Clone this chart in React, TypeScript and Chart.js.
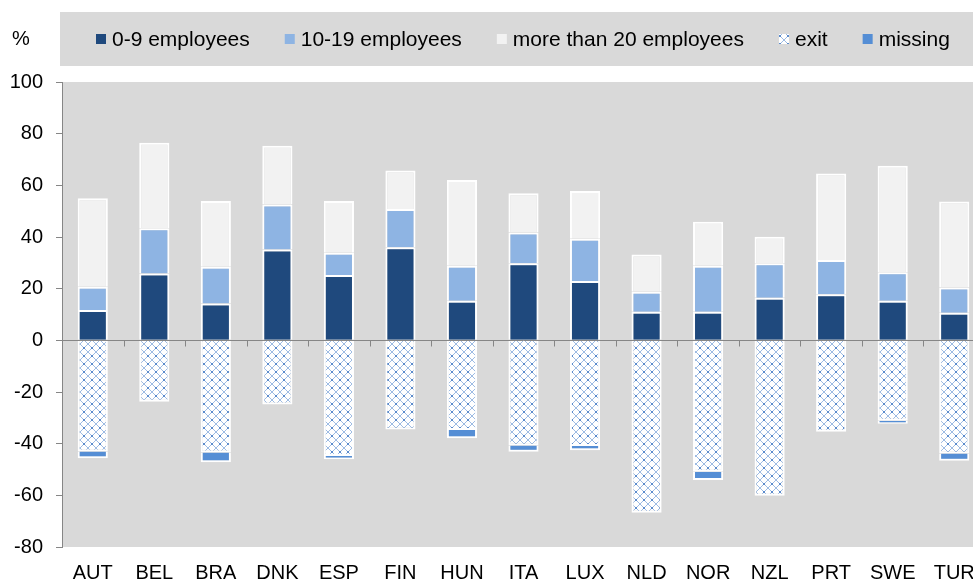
import React, { useEffect, useRef } from "react";
import { Chart, registerables } from "chart.js";

Chart.register(...registerables);

const categories = ["AUT", "BEL", "BRA", "DNK", "ESP", "FIN", "HUN", "ITA", "LUX", "NLD", "NOR", "NZL", "PRT", "SWE", "TUR"];
const seriesLabels = ["0-9 employees", "10-19 employees", "more than 20 employees", "exit", "missing"];
const emp0to9 = [11.7, 25.9, 14.3, 35.2, 25.3, 36.0, 15.3, 29.8, 23.0, 11.1, 11.1, 16.5, 17.8, 15.3, 10.7];
const emp10to19 = [9.0, 17.5, 14.2, 17.4, 8.6, 14.8, 13.6, 11.9, 16.3, 7.7, 17.8, 13.3, 13.3, 11.1, 9.8];
const empOver20 = [34.3, 33.1, 25.4, 22.7, 20.0, 14.9, 33.2, 15.2, 18.5, 14.4, 17.0, 10.3, 33.5, 41.2, 33.2];
const exitShare = [-43.0, -23.8, -43.4, -24.8, -44.8, -34.5, -34.7, -40.7, -40.9, -66.7, -50.9, -60.2, -35.4, -31.1, -43.8];
const missingShare = [-2.6, null, -3.8, null, -1.2, null, -3.2, -2.4, -1.6, null, -3.2, null, null, -1.2, -2.8];
const yMin = -80;
const yMax = 100;
const yStep = 20;
const unitLabel = "%";

const FONT = "'Liberation Sans', Arial, sans-serif";
const AXIS_GRAY = "#868686";
const PLOT_BG = "#d9d9d9";

export default function App() {
  const ref = useRef<HTMLCanvasElement>(null);

  useEffect(() => {
    const canvas = ref.current;
    if (!canvas) return;

    const pc = document.createElement("canvas");
    pc.width = 8;
    pc.height = 8;
    const pctx = pc.getContext("2d")!;
    pctx.fillStyle = "#ffffff";
    pctx.fillRect(0, 0, 8, 8);
    pctx.strokeStyle = "#9dbbe3";
    pctx.lineWidth = 1;
    pctx.beginPath();
    pctx.moveTo(0, 0);
    pctx.lineTo(8, 8);
    pctx.moveTo(8, 0);
    pctx.lineTo(0, 8);
    pctx.stroke();
    pctx.fillStyle = "#5b8bcc";
    pctx.fillRect(3, 3, 2, 2);
    const hatch = canvas.getContext("2d")!.createPattern(pc, "repeat")!;

    const colors = ["#1f497d", "#8eb4e3", "#f2f2f2", hatch, "#558ed5"];
    const values = [emp0to9, emp10to19, empOver20, exitShare, missingShare];

    const bgPlugin = {
      id: "bgPlugin",
      beforeDraw(chart: any) {
        const { ctx, chartArea, width } = chart;
        ctx.save();
        ctx.fillStyle = "#ffffff";
        ctx.fillRect(0, 0, width, chart.height);
        ctx.fillStyle = PLOT_BG;
        ctx.fillRect(chartArea.left, chartArea.top, chartArea.right - chartArea.left, chartArea.bottom - chartArea.top);
        // legend box
        ctx.fillStyle = PLOT_BG;
        ctx.fillRect(60, 12, width - 60, 54);
        ctx.fillStyle = "#000000";
        ctx.font = `20px ${FONT}`;
        ctx.textBaseline = "middle";
        ctx.textAlign = "left";
        ctx.fillText(unitLabel, 12, 39);
        ctx.font = `21px ${FONT}`;
        let x = 96;
        chart.data.datasets.forEach((ds: any) => {
          ctx.fillStyle = ds.backgroundColor;
          ctx.fillRect(x, 34, 10, 10);
          ctx.fillStyle = "#000000";
          ctx.fillText(ds.label, x + 16, 40);
          x += 16 + ctx.measureText(ds.label).width + 35;
        });
        ctx.restore();
      },
      afterDatasetsDraw(chart: any) {
        const { ctx, chartArea, scales } = chart;
        const y0 = Math.round(scales.y.getPixelForValue(0)) + 0.5;
        ctx.save();
        ctx.strokeStyle = AXIS_GRAY;
        ctx.lineWidth = 1;
        ctx.beginPath();
        ctx.moveTo(chartArea.left, y0);
        ctx.lineTo(chartArea.right, y0);
        const n = categories.length;
        const w = (chartArea.right - chartArea.left) / n;
        for (let i = 1; i <= n; i++) {
          const xx = Math.round(chartArea.left + i * w) + 0.5;
          ctx.moveTo(xx, y0);
          ctx.lineTo(xx, y0 + 6);
        }
        ctx.stroke();
        ctx.restore();
      },
    };

    const chart = new Chart(canvas, {
      type: "bar",
      data: {
        labels: categories,
        datasets: seriesLabels.map((label, i) => ({
          label,
          data: values[i] as any,
          backgroundColor: colors[i] as any,
          borderColor: "#ffffff",
          borderWidth: 2,
          barPercentage: 0.49,
          categoryPercentage: 1.0,
          stack: "s",
        })),
      },
      options: {
        animation: false,
        responsive: false,
        layout: { padding: { top: 82, left: 0, right: 5, bottom: 0 } },
        plugins: {
          legend: { display: false },
          tooltip: { enabled: false },
        },
        scales: {
          x: {
            stacked: true,
            grid: { display: false },
            border: { display: false },
            ticks: {
              color: "#000000",
              font: { family: FONT, size: 20 },
              autoSkip: false,
              maxRotation: 0,
              padding: 6,
            },
            afterFit(scale: any) {
              scale.height = 36;
            },
          },
          y: {
            stacked: true,
            min: yMin,
            max: yMax,
            ticks: {
              stepSize: yStep,
              color: "#000000",
              font: { family: FONT, size: 20 },
              padding: 13,
            },
            grid: {
              display: true,
              drawOnChartArea: false,
              drawTicks: true,
              tickLength: 6,
              color: AXIS_GRAY,
            },
            border: { display: true, color: AXIS_GRAY, width: 1 },
            afterFit(scale: any) {
              scale.width = 62;
            },
          },
        },
      },
      plugins: [bgPlugin],
    });

    return () => chart.destroy();
  }, []);

  return (
    <div style={{ position: "fixed", left: 0, top: 0, width: 973, height: 583, overflow: "hidden", background: "#ffffff" }}>
      <canvas ref={ref} width={990} height={583} style={{ width: 990, height: 583, display: "block" }} />
    </div>
  );
}
